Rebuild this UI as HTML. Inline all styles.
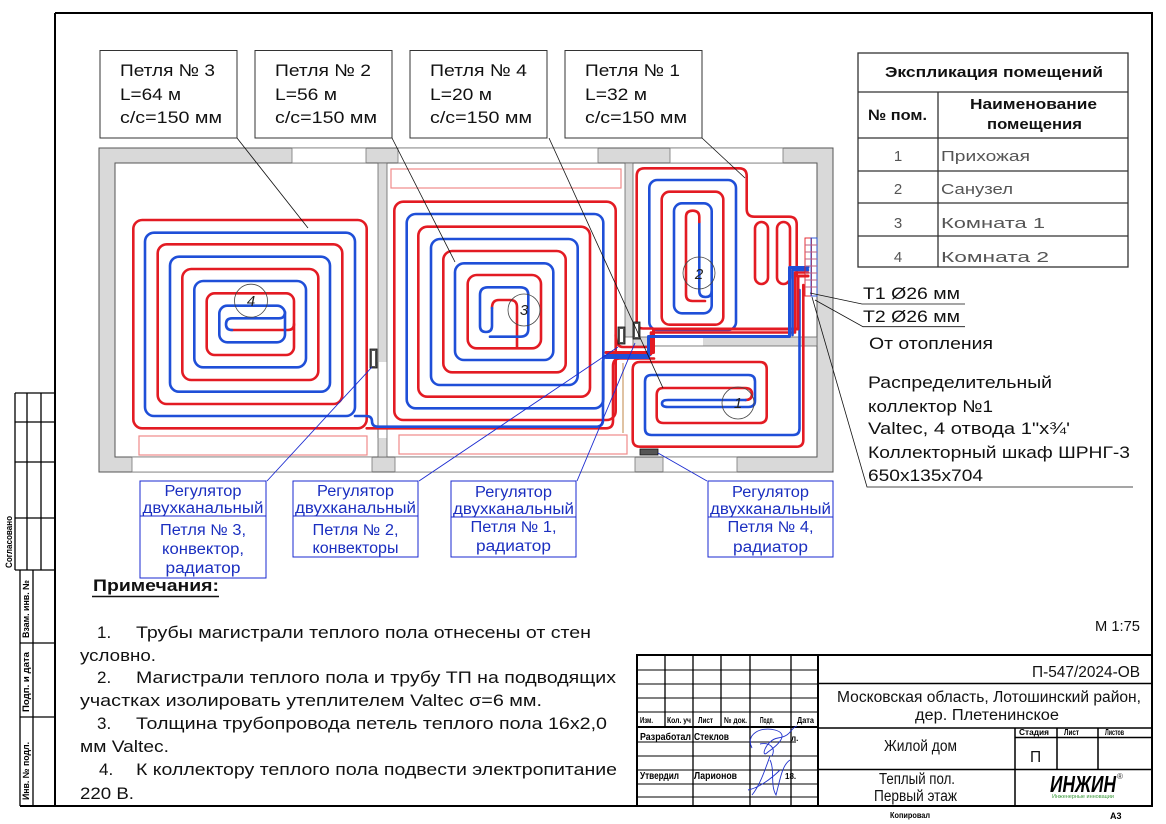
<!DOCTYPE html>
<html><head><meta charset="utf-8"><style>
html,body{margin:0;padding:0;background:#fff;}
svg{display:block;font-family:"Liberation Sans",Arial,sans-serif;}
</style></head><body>
<svg width="1166" height="824" viewBox="0 0 1166 824" xmlns="http://www.w3.org/2000/svg">
<rect width="1166" height="824" fill="#fff"/>

<!-- Frame -->
<g stroke="#000" fill="none">
<path d="M55 13 H1152 V806 H20" stroke-width="2"/>
<line x1="55" y1="13" x2="55" y2="806" stroke-width="2"/>
<!-- left stamps -->
<path d="M15 393 H55 M15 393 V570 M27 393 V570 M41 393 V570 M15 422 H55 M15 462 H55 M15 518 H55 M15 570 H55" stroke-width="1.3"/>
<path d="M20 570 V806 M33 570 V806 M20 643 H55 M20 717 H55" stroke-width="1.3"/>
</g>
<g font-size="9" font-weight="bold" fill="#000">
<text transform="translate(12,568) rotate(-90)" textLength="52" lengthAdjust="spacingAndGlyphs">Согласовано</text>
<text transform="translate(29,638) rotate(-90)" textLength="58" lengthAdjust="spacingAndGlyphs">Взам. инв. №</text>
<text transform="translate(29,712) rotate(-90)" textLength="60" lengthAdjust="spacingAndGlyphs">Подп. и дата</text>
<text transform="translate(29,800) rotate(-90)" textLength="58" lengthAdjust="spacingAndGlyphs">Инв. № подл.</text>
</g>

<!-- Loop label boxes -->
<g fill="none" stroke="#333" stroke-width="1">
<rect x="100" y="50.5" width="137" height="87.5"/>
<rect x="255" y="50.5" width="137" height="87.5"/>
<rect x="410" y="50.5" width="137" height="87.5"/>
<rect x="565" y="50.5" width="137" height="87.5"/>
</g>
<g font-size="17" fill="#111">
<text x="120" y="76" textLength="95" lengthAdjust="spacingAndGlyphs">Петля № 3</text>
<text x="120" y="100" textLength="61" lengthAdjust="spacingAndGlyphs">L=64 м</text>
<text x="120" y="123" textLength="102" lengthAdjust="spacingAndGlyphs">с/с=150 мм</text>
<text x="275" y="76" textLength="96" lengthAdjust="spacingAndGlyphs">Петля № 2</text>
<text x="275" y="100" textLength="62" lengthAdjust="spacingAndGlyphs">L=56 м</text>
<text x="275" y="123" textLength="102" lengthAdjust="spacingAndGlyphs">с/с=150 мм</text>
<text x="430" y="76" textLength="97" lengthAdjust="spacingAndGlyphs">Петля № 4</text>
<text x="430" y="100" textLength="62" lengthAdjust="spacingAndGlyphs">L=20 м</text>
<text x="430" y="123" textLength="102" lengthAdjust="spacingAndGlyphs">с/с=150 мм</text>
<text x="585" y="76" textLength="95" lengthAdjust="spacingAndGlyphs">Петля № 1</text>
<text x="585" y="100" textLength="62" lengthAdjust="spacingAndGlyphs">L=32 м</text>
<text x="585" y="123" textLength="102" lengthAdjust="spacingAndGlyphs">с/с=150 мм</text>
</g>

<!-- Walls -->
<rect x="99" y="148" width="734" height="324" fill="#d9d9d9" stroke="#555" stroke-width="1"/>
<rect x="115" y="163" width="702" height="294" fill="#fff" stroke="#555" stroke-width="1"/>
<g fill="#fff" stroke="#777" stroke-width="0.8">
<rect x="292" y="148" width="74" height="15"/>
<rect x="398" y="148" width="200" height="15"/>
<rect x="670" y="148" width="113" height="15"/>
<rect x="132" y="457" width="240" height="15"/>
<rect x="395" y="457" width="240" height="15"/>
<rect x="663" y="457" width="74" height="15"/>
</g>
<g fill="#d9d9d9" stroke="#666" stroke-width="0.8">
<rect x="378" y="163" width="9" height="294"/>
<rect x="625" y="163" width="8" height="174"/>
<rect x="633" y="337" width="184" height="9"/>
</g>
<rect x="378.5" y="362" width="8" height="76" fill="#fff"/>
<line x1="378" y1="362" x2="378" y2="438" stroke="#666" stroke-width="0.8"/>
<rect x="653" y="337.5" width="50" height="8" fill="#fff"/>
<line x1="653" y1="337" x2="703" y2="337" stroke="#666" stroke-width="0.8"/>
<line x1="623" y1="363" x2="623" y2="433" stroke="#d8b48c" stroke-width="1.6"/>

<!-- Convectors -->
<g fill="none" stroke="#ef8a8a" stroke-width="1.2">
<rect x="139" y="436" width="228" height="19"/>
<rect x="391" y="169" width="230" height="19"/>
<rect x="399" y="435" width="228" height="19"/>
</g>

<!-- Pipes -->
<g fill="none" stroke-width="2.6" stroke-linecap="round" stroke-linejoin="round">
<!-- Room 4 -->
<g stroke="#e31b23">
<rect x="133.3" y="220" width="233.4" height="208.3" rx="9"/>
<rect x="157.7" y="244.3" width="184.6" height="159.7" rx="9"/>
<rect x="182.3" y="269" width="136" height="111" rx="9"/>
<rect x="206.7" y="293.3" width="87.3" height="61.7" rx="8"/>
<path d="M232 330 H288 Q294 330 294 324"/>
</g>
<g stroke="#1f4fd8">
<rect x="145" y="232.7" width="210" height="183.3" rx="9"/>
<rect x="170" y="256.7" width="160" height="135" rx="9"/>
<rect x="194.3" y="281" width="111.7" height="86.3" rx="9"/>
<rect x="219.3" y="305.7" width="65.7" height="36.6" rx="8"/>
<path d="M285 312 Q285 318.3 279 318.3 H232 Q226 318.3 226 324.2 Q226 330 232 330"/>
</g>
<!-- Room 3 -->
<g stroke="#e31b23">
<rect x="394.3" y="201.7" width="221.4" height="218.3" rx="9"/>
<rect x="418.3" y="226.7" width="171.7" height="170" rx="9"/>
<rect x="443.3" y="251" width="122.4" height="121.3" rx="9"/>
<rect x="467.7" y="275" width="73.3" height="73.3" rx="9"/>
<path d="M492 308 Q492 300 499 300 H510 Q517 300 517 307 V348"/>
</g>
<g stroke="#1f4fd8">
<rect x="406.7" y="214" width="196.6" height="194.3" rx="9"/>
<rect x="431" y="239" width="146.7" height="146" rx="9"/>
<rect x="455" y="263.3" width="98.3" height="96.7" rx="9"/>
<path d="M492 308 V326 Q492 332 486 332 Q480 332 480 326 V295 Q480 287.3 488 287.3 H520 Q528.3 287.3 528.3 295 V329 Q528.3 336.7 520 336.7 H490"/>
</g>
<!-- Room 2 -->
<g stroke="#1f4fd8">
<rect x="649.3" y="180" width="86.7" height="150" rx="8"/>
<rect x="674" y="203.3" width="37.7" height="110" rx="8"/>
<path d="M699.3 222 V291 Q699.3 297 705.5 297 Q711.7 297 711.7 291"/>
</g>
<g stroke="#e31b23">
<path d="M653 328.5 H643 Q636.7 328.5 636.7 322 V176 Q636.7 168.3 644.5 168.3 H739 Q746.7 168.3 746.7 176 V209 Q746.7 216.7 754.5 216.7 H789 Q796.7 216.7 796.7 224.5 V276"/>
<rect x="755" y="222" width="13" height="62" rx="6.5"/>
<rect x="777" y="222" width="13" height="62" rx="6.5"/>
<rect x="661.7" y="191.7" width="61.6" height="133" rx="8"/>
<path d="M705 301 H692.5 Q686 301 686 294.5 V217 Q686 210.7 692.6 210.7 Q699.3 210.7 699.3 217 V222"/>
</g>
<!-- Room 1 -->
<path stroke="#e31b23" d="M803.3 285 V440 Q803.3 446.7 796.5 446.7 H640 Q632.7 446.7 632.7 439.5 V369.5 Q632.7 362 640 362 H759.5 Q766.7 362 766.7 369 V416 Q766.7 423 759.5 423 H663.5 Q656.7 423 656.7 416 V395 Q656.7 388 663.5 388 H745 Q752 388 752 394 Q752 400 745.5 400"/>
<path stroke="#1f4fd8" d="M799.5 290 V428.5 Q799.5 435 793 435 H651.5 Q645 435 645 428.5 V381.5 Q645 375 651.5 375 H748.5 Q755 375 755 381.5 V400.5 Q755 407 748.5 407 H668 Q662 407 662 403.5 Q662 400 668 400 H745.5"/>
<!-- Feed lines to rooms 3/4 -->
<path stroke="#e31b23" d="M366.7 428.3 H606 Q613 428.3 613 421 V366 Q613 358.5 620 358.5 H654"/>
<path stroke="#1f4fd8" d="M355 416 H366 Q372 416 372 421.3 Q372 426.7 378 426.7 H596 Q603 426.7 603 420 V362 Q603 355 610 355 H650"/>
<path stroke="#e31b23" d="M615.7 335 Q615.7 347 623 347 H650"/>
<!-- Trunk bundle -->
<path stroke="#e31b23" stroke-width="3" d="M606 352.5 H653.5 V329 H798 V276 H808"/>
<path stroke="#e31b23" stroke-width="2.6" d="M651 354 V332.5 H795 V272.5 H808"/>
<path stroke="#1f4fd8" stroke-width="3" d="M606 357.5 H648.5 V336.5 H789.5 V267.5 H808"/>
<path stroke="#1f4fd8" stroke-width="2.6" d="M792.5 335 V270 H808"/>
</g>

<!-- Collector -->
<g fill="none" stroke-width="0.9">
<rect x="805" y="238" width="6.5" height="58" stroke="#e31b23"/>
<rect x="811" y="238" width="6" height="58" stroke="#1f4fd8"/>
<path d="M805 245 H817 M805 252 H817 M805 259 H817 M805 266 H817 M805 273 H817 M805 280 H817 M805 287 H817" stroke="#c06080"/>
</g>

<!-- Room circles -->
<g fill="none" stroke="#444" stroke-width="0.8">
<circle cx="251" cy="300.7" r="16.5"/>
<circle cx="524" cy="310" r="16"/>
<circle cx="699" cy="273" r="16"/>
<circle cx="738" cy="403" r="16"/>
</g>
<g font-size="15" font-style="italic" fill="#222" text-anchor="middle">
<text x="251" y="306">4</text>
<text x="524" y="315">3</text>
<text x="699" y="279">2</text>
<text x="738" y="408">1</text>
</g>

<!-- Regulators -->
<g fill="#555" stroke="#111" stroke-width="0.8">
<rect x="370" y="349" width="7" height="19"/>
<rect x="618" y="327" width="7" height="17"/>
<rect x="633" y="322" width="7" height="17"/>
<rect x="640" y="449" width="18" height="6"/>
</g>
<g fill="#fff">
<rect x="372" y="351" width="3" height="15"/>
<rect x="620" y="329" width="3" height="13"/>
<rect x="635" y="324" width="3" height="13"/>
</g>

<!-- Black leaders -->
<g stroke="#111" stroke-width="0.8" fill="none">
<line x1="237" y1="138" x2="308" y2="228"/>
<line x1="392" y1="138" x2="455" y2="262"/>
<line x1="549" y1="138" x2="663" y2="388"/>
<line x1="702" y1="138" x2="745" y2="178"/>
<path d="M810 293 L862 304 H965"/>
<path d="M815 300 L863 326.7 H965"/>
<path d="M812 297 L867 487 H1133"/>
</g>

<!-- Blue leaders -->
<g stroke="#1a2ad0" stroke-width="0.9" fill="none">
<line x1="267" y1="481" x2="372" y2="367"/>
<line x1="419" y1="481" x2="618" y2="347"/>
<line x1="577" y1="481" x2="635" y2="343"/>
<line x1="707" y1="481" x2="658" y2="453"/>
</g>

<!-- Regulator boxes -->
<g fill="none" stroke="#1a2ad0" stroke-width="1">
<rect x="140" y="481" width="126" height="97"/><line x1="140" y1="516" x2="266" y2="516"/>
<rect x="293" y="481" width="125" height="76"/><line x1="293" y1="516" x2="418" y2="516"/>
<rect x="451" y="481" width="125" height="76"/><line x1="451" y1="517" x2="576" y2="517"/>
<rect x="708" y="481" width="125" height="76"/><line x1="708" y1="517" x2="833" y2="517"/>
</g>
<g font-size="15.5" fill="#1b2fc0">
<text x="164.5" y="496" textLength="77" lengthAdjust="spacingAndGlyphs">Регулятор</text>
<text x="142.5" y="513" textLength="121" lengthAdjust="spacingAndGlyphs">двухканальный</text>
<text x="160" y="535" textLength="86" lengthAdjust="spacingAndGlyphs">Петля № 3,</text>
<text x="162" y="554" textLength="82" lengthAdjust="spacingAndGlyphs">конвектор,</text>
<text x="165.5" y="573" textLength="75" lengthAdjust="spacingAndGlyphs">радиатор</text>

<text x="317" y="496" textLength="77" lengthAdjust="spacingAndGlyphs">Регулятор</text>
<text x="295" y="513" textLength="121" lengthAdjust="spacingAndGlyphs">двухканальный</text>
<text x="312.5" y="535" textLength="86" lengthAdjust="spacingAndGlyphs">Петля № 2,</text>
<text x="312.5" y="553" textLength="86" lengthAdjust="spacingAndGlyphs">конвекторы</text>

<text x="475" y="497" textLength="77" lengthAdjust="spacingAndGlyphs">Регулятор</text>
<text x="453" y="514" textLength="121" lengthAdjust="spacingAndGlyphs">двухканальный</text>
<text x="470.5" y="532" textLength="86" lengthAdjust="spacingAndGlyphs">Петля № 1,</text>
<text x="476" y="551" textLength="75" lengthAdjust="spacingAndGlyphs">радиатор</text>

<text x="732" y="497" textLength="77" lengthAdjust="spacingAndGlyphs">Регулятор</text>
<text x="710" y="514" textLength="121" lengthAdjust="spacingAndGlyphs">двухканальный</text>
<text x="727.5" y="532" textLength="86" lengthAdjust="spacingAndGlyphs">Петля № 4,</text>
<text x="733" y="552" textLength="75" lengthAdjust="spacingAndGlyphs">радиатор</text>
</g>

<!-- Explication table -->
<g fill="none" stroke="#333" stroke-width="1.3">
<rect x="858" y="53" width="270" height="214"/>
<path d="M858 92 H1128 M858 138 H1128 M858 171 H1128 M858 203 H1128 M858 236 H1128 M938 92 V267"/>
</g>
<g font-size="15" fill="#111" font-weight="bold">
<text x="885" y="77" textLength="218" lengthAdjust="spacingAndGlyphs">Экспликация помещений</text>
<text x="868" y="120" textLength="59" lengthAdjust="spacingAndGlyphs">№ пом.</text>
<text x="970" y="109" textLength="127" lengthAdjust="spacingAndGlyphs">Наименование</text>
<text x="987" y="129" textLength="95" lengthAdjust="spacingAndGlyphs">помещения</text>
</g>
<g font-size="15" fill="#555">
<text x="898" y="161" text-anchor="middle">1</text>
<text x="898" y="194" text-anchor="middle">2</text>
<text x="898" y="228" text-anchor="middle">3</text>
<text x="898" y="262" text-anchor="middle">4</text>
<text x="941" y="161" textLength="89" lengthAdjust="spacingAndGlyphs">Прихожая</text>
<text x="941" y="194" textLength="72" lengthAdjust="spacingAndGlyphs">Санузел</text>
<text x="941" y="228" textLength="104" lengthAdjust="spacingAndGlyphs">Комната  1</text>
<text x="941" y="262" textLength="108" lengthAdjust="spacingAndGlyphs">Комната  2</text>
</g>

<!-- Collector annotations -->
<g font-size="17" fill="#111">
<text x="863" y="299" textLength="97" lengthAdjust="spacingAndGlyphs">Т1 Ø26 мм</text>
<text x="863" y="322" textLength="97" lengthAdjust="spacingAndGlyphs">Т2 Ø26 мм</text>
<text x="869" y="349" textLength="124" lengthAdjust="spacingAndGlyphs">От отопления</text>
<text x="868" y="388" textLength="184" lengthAdjust="spacingAndGlyphs">Распределительный</text>
<text x="868" y="412" textLength="125" lengthAdjust="spacingAndGlyphs">коллектор №1</text>
<text x="868" y="434" textLength="202" lengthAdjust="spacingAndGlyphs">Valtec, 4 отвода 1"х¾'</text>
<text x="868" y="458" textLength="262" lengthAdjust="spacingAndGlyphs">Коллекторный шкаф ШРНГ-3</text>
<text x="868" y="481" textLength="115" lengthAdjust="spacingAndGlyphs">650х135х704</text>
</g>

<!-- Notes -->
<g font-size="17" fill="#111">
<text x="93" y="591" font-weight="bold" textLength="126" lengthAdjust="spacingAndGlyphs">Примечания:</text>
<line x1="92" y1="596.5" x2="219" y2="596.5" stroke="#111" stroke-width="1.5"/>
<text x="97" y="638">1.</text>
<text x="136" y="638" textLength="455" lengthAdjust="spacingAndGlyphs">Трубы магистрали теплого пола отнесены от стен</text>
<text x="80" y="661" textLength="76" lengthAdjust="spacingAndGlyphs">условно.</text>
<text x="97" y="683">2.</text>
<text x="136" y="683" textLength="480" lengthAdjust="spacingAndGlyphs">Магистрали теплого пола и трубу ТП на подводящих</text>
<text x="80" y="706" textLength="462" lengthAdjust="spacingAndGlyphs">участках изолировать утеплителем Valtec σ=6 мм.</text>
<text x="97" y="729">3.</text>
<text x="136" y="729" textLength="471" lengthAdjust="spacingAndGlyphs">Толщина трубопровода петель теплого пола 16х2,0</text>
<text x="80" y="752" textLength="89" lengthAdjust="spacingAndGlyphs">мм Valtec.</text>
<text x="99" y="775">4.</text>
<text x="136" y="775" textLength="481" lengthAdjust="spacingAndGlyphs">К коллектору теплого пола подвести электропитание</text>
<text x="80" y="799" textLength="54" lengthAdjust="spacingAndGlyphs">220 В.</text>
</g>
<text x="1095" y="631" font-size="15" fill="#111" textLength="45" lengthAdjust="spacingAndGlyphs">М 1:75</text>

<!-- Title block -->
<g fill="none" stroke="#000">
<rect x="637" y="655" width="515" height="151" stroke-width="2"/>
<line x1="818" y1="655" x2="818" y2="806" stroke-width="2"/>
<path d="M637 670 H818 M637 684 H818 M637 698 H818 M637 712 H818 M637 742 H818 M637 756 H818 M637 770 H818 M637 784 H818 M637 797 H818" stroke-width="1.1"/>
<line x1="637" y1="727" x2="818" y2="727" stroke-width="2"/>
<path d="M665 655 V727 M693 655 V806 M721 655 V727 M750 655 V806 M791 655 V806" stroke-width="1.3"/>
<path d="M818 683.5 H1152 M818 728 H1152 M818 769.5 H1152 M1015 728 V806 M1057 728 V769.5 M1098 728 V769.5 M1015 737.5 H1152" stroke-width="1.5"/>
</g>
<rect x="796" y="729" width="21" height="22" fill="#fff"/>
<g font-size="8.5" font-weight="bold" fill="#000">
<text x="640" y="723" textLength="13" lengthAdjust="spacingAndGlyphs">Изм.</text>
<text x="667" y="723" textLength="24" lengthAdjust="spacingAndGlyphs">Кол. уч</text>
<text x="698" y="723" textLength="15" lengthAdjust="spacingAndGlyphs">Лист</text>
<text x="724" y="723" textLength="23" lengthAdjust="spacingAndGlyphs">№ док.</text>
<text x="760" y="723" textLength="14" lengthAdjust="spacingAndGlyphs">Подп.</text>
<text x="797" y="723" textLength="17" lengthAdjust="spacingAndGlyphs">Дата</text>
<text x="1019" y="735" textLength="30" lengthAdjust="spacingAndGlyphs">Стадия</text>
<text x="1064" y="735" textLength="15" lengthAdjust="spacingAndGlyphs">Лист</text>
<text x="1105" y="735" textLength="19" lengthAdjust="spacingAndGlyphs">Листов</text>
<text x="890" y="818" textLength="40" lengthAdjust="spacingAndGlyphs">Копировал</text>
<text x="1110" y="819" font-size="9">А3</text>
</g>
<g font-size="10.5" font-weight="bold" fill="#000">
<text x="640" y="740" textLength="51" lengthAdjust="spacingAndGlyphs">Разработал</text>
<text x="694" y="740" textLength="35" lengthAdjust="spacingAndGlyphs">Стеклов</text>
<text x="640" y="779" textLength="39" lengthAdjust="spacingAndGlyphs">Утвердил</text>
<text x="694" y="779" textLength="43" lengthAdjust="spacingAndGlyphs">Ларионов</text>
<text x="791" y="741" font-size="8">л.</text>
<text x="785" y="779" font-size="8">18.</text>
</g>
<path d="M752 748 C745 735 760 726 775 730 C790 734 778 745 768 752 C760 760 765 740 778 738 C792 736 790 728 797 726 M770 756 C765 770 760 785 752 795 M770 760 C775 770 770 785 776 795 C780 780 782 765 790 760 M748 790 C758 788 770 780 780 770 M760 744 C770 742 776 748 772 756" stroke="#2233cc" stroke-width="0.9" fill="none"/>
<g font-size="15.5" fill="#111">
<text x="1140" y="677" text-anchor="end" textLength="108" lengthAdjust="spacingAndGlyphs">П-547/2024-ОВ</text>
<text x="837" y="702" textLength="304" lengthAdjust="spacingAndGlyphs">Московская область, Лотошинский район,</text>
<text x="915" y="720" textLength="144" lengthAdjust="spacingAndGlyphs">дер. Плетенинское</text>
<text x="884" y="751" textLength="73" lengthAdjust="spacingAndGlyphs">Жилой дом</text>
<text x="1030" y="762">П</text>
<text x="879" y="784" textLength="76" lengthAdjust="spacingAndGlyphs">Теплый пол.</text>
<text x="874" y="801" textLength="83" lengthAdjust="spacingAndGlyphs">Первый этаж</text>
</g>
<text x="1050" y="792" font-size="23" font-weight="bold" font-style="italic" fill="#000" textLength="66" lengthAdjust="spacingAndGlyphs">ИНЖИН</text>
<text x="1117" y="779" font-size="8" fill="#333">®</text>
<text x="1052" y="798" font-size="5" fill="#3a9a3a" textLength="62" lengthAdjust="spacingAndGlyphs">Инженерные инновации</text>
</svg>
</body></html>
